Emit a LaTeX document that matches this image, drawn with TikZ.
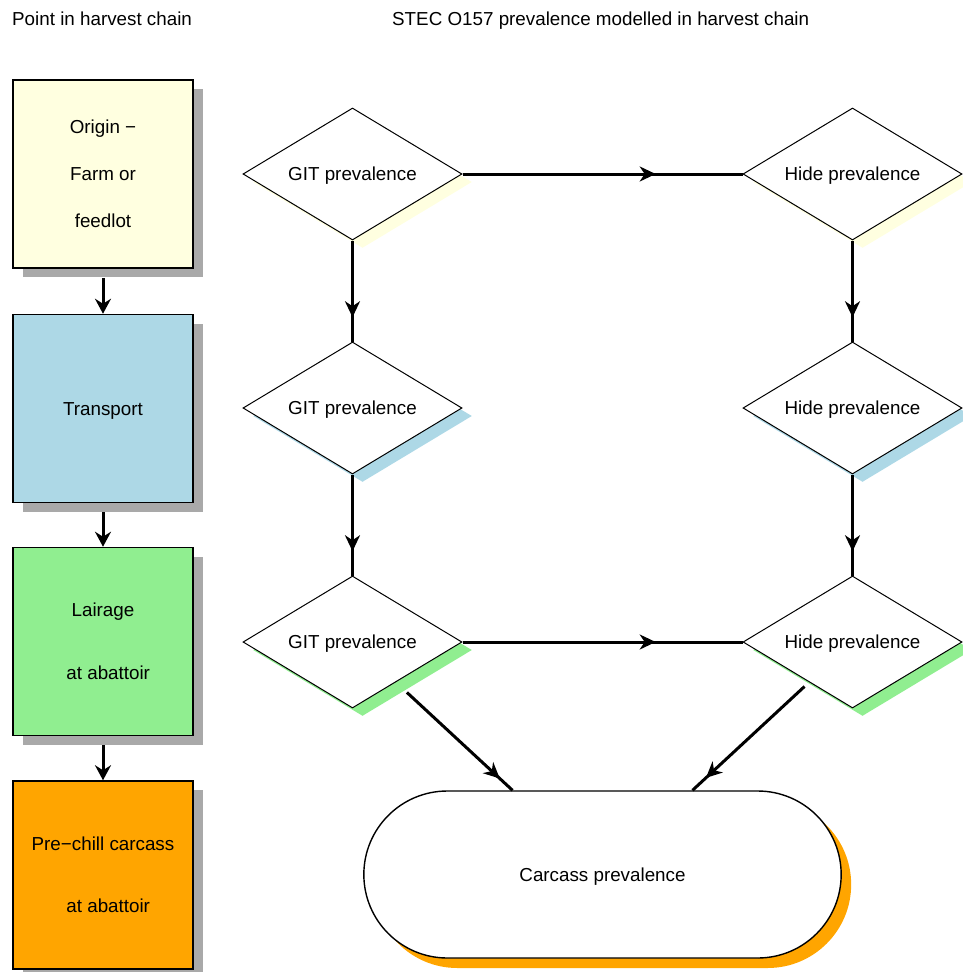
\documentclass[tikz,border=0pt]{standalone}
\usepackage{fontspec}
\setmainfont{Liberation Sans}
\usetikzlibrary{shapes.geometric,shapes.misc,shadows,arrows.meta,decorations.markings,calc}
\definecolor{lyel}{HTML}{FFFFE0}
\definecolor{lblue}{HTML}{ADD8E6}
\definecolor{lgreen}{HTML}{90EE90}
\definecolor{orng}{HTML}{FFA500}
\definecolor{shgray}{HTML}{A9A9A9}
\begin{document}
\begin{tikzpicture}[x=1pt,y=-1pt,
  txt/.style={font=\fontsize{18.8}{22}\selectfont},
  box/.style={draw, line width=1.5pt, minimum width=180pt, minimum height=188pt, inner sep=0pt, txt, align=center,
    drop shadow={shadow xshift=10pt, shadow yshift=-9pt, fill=shgray, opacity=1}},
  dia/.style={diamond, draw, line width=1pt, fill=white, aspect=1.66, minimum width=219pt, minimum height=132pt, inner sep=0pt, txt,
    text height=13.5pt, text depth=0pt,
    drop shadow={shadow xshift=10pt, shadow yshift=-8pt, fill=#1, opacity=1}},
  carcbox/.style={rounded rectangle, draw, line width=1.4pt, fill=white, minimum width=484pt, minimum height=167pt, txt,
    text height=13.5pt, text depth=0pt,
    drop shadow={shadow xshift=10pt, shadow yshift=-10pt, fill=orng, opacity=1}},
  arr/.style={line width=3pt, -{Stealth[length=15pt,width=16pt,inset=5pt]}},
  mid/.style={line width=3pt, postaction={decorate}, decoration={markings, mark=at position #1 with {\arrow{Stealth[length=16pt,width=15pt,inset=5pt]}}}}
]
\useasboundingbox (0,0) rectangle (963,972);
% titles
\node[txt, anchor=base west, inner sep=0pt] (t1) at (12,25.5) {Point in harvest chain};
\node[txt, anchor=base west, inner sep=0pt] (t2) at (392,25.5) {STEC O157 prevalence modelled in harvest chain};
% left boxes
\node[box, fill=lyel, font=\fontsize{18.8}{47}\selectfont] (b1) at (103,174) {Origin −\\Farm or\\feedlot};
\node[box, fill=lblue, text height=13.5pt, text depth=0pt] (b2) at (103,408.5) {Transport};
\node[box, fill=lgreen, font=\fontsize{18.8}{63}\selectfont] (b3) at (103,641.5) {Lairage\\\ \ at abattoir};
\node[box, fill=orng, font=\fontsize{18.8}{62}\selectfont] (b4) at (103,875) {Pre−chill carcass\\\ \ at abattoir};
\draw[arr] ([yshift=-9pt]b1.south) -- (b2.north);
\draw[arr] ([yshift=-9pt]b2.south) -- (b3.north);
\draw[arr] ([yshift=-9pt]b3.south) -- (b4.north);
% diamonds
\node[dia=lyel] (g1) at (352.5,174) {GIT prevalence};
\node[dia=lyel] (h1) at (852.5,174) {Hide prevalence};
\node[dia=lblue] (g2) at (352.5,408) {GIT prevalence};
\node[dia=lblue] (h2) at (852.5,408) {Hide prevalence};
\node[dia=lgreen] (g3) at (352.5,642) {GIT prevalence};
\node[dia=lgreen] (h3) at (852.5,642) {Hide prevalence};
% carcass
\node[carcbox] (c) at (602.5,874.5) {Carcass prevalence};
\coordinate (cL) at ($(c.north)+(-90,0)$);
\coordinate (cR) at ($(c.north)+(90,0)$);
% connectors
\draw[mid=0.69] (g1.east) -- (h1.west);
\draw[mid=0.69] (g3.east) -- (h3.west);
\draw[mid=0.76] (g1.south) -- (g2.north);
\draw[mid=0.76] (g2.south) -- (g3.north);
\draw[mid=0.76] (h1.south) -- (h2.north);
\draw[mid=0.76] (h2.south) -- (h3.north);
\draw[mid=0.88] ($(g3.center)!0.34!(cL)$) -- (cL);
\draw[mid=0.88] ($(h3.center)!0.30!(cR)$) -- (cR);
\end{tikzpicture}
\end{document}
